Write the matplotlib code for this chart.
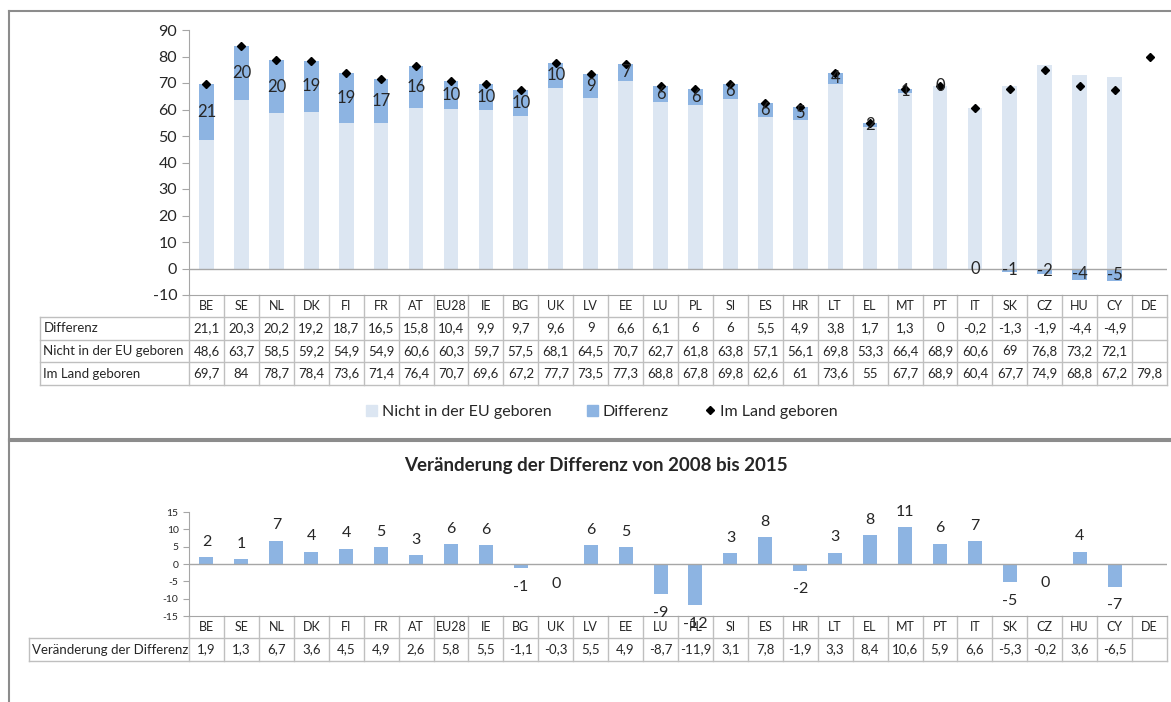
import numpy as np
import matplotlib.pyplot as plt
from matplotlib.lines import Line2D
from matplotlib.patches import Patch
from matplotlib.transforms import blended_transform_factory

plt.rcParams['font.family'] = ['Lato', 'DejaVu Sans']
plt.rcParams['axes.unicode_minus'] = False

laender = ['BE', 'SE', 'NL', 'DK', 'FI', 'FR', 'AT', 'EU28', 'IE', 'BG', 'UK', 'LV', 'EE', 'LU',
           'PL', 'SI', 'ES', 'HR', 'LT', 'EL', 'MT', 'PT', 'IT', 'SK', 'CZ', 'HU', 'CY', 'DE']
nan = np.nan
differenz = [21.1, 20.3, 20.2, 19.2, 18.7, 16.5, 15.8, 10.4, 9.9, 9.7, 9.6, 9, 6.6, 6.1,
             6, 6, 5.5, 4.9, 3.8, 1.7, 1.3, 0, -0.2, -1.3, -1.9, -4.4, -4.9, nan]
nicht_eu = [48.6, 63.7, 58.5, 59.2, 54.9, 54.9, 60.6, 60.3, 59.7, 57.5, 68.1, 64.5, 70.7, 62.7,
            61.8, 63.8, 57.1, 56.1, 69.8, 53.3, 66.4, 68.9, 60.6, 69, 76.8, 73.2, 72.1, nan]
im_land = [69.7, 84, 78.7, 78.4, 73.6, 71.4, 76.4, 70.7, 69.6, 67.2, 77.7, 73.5, 77.3, 68.8,
           67.8, 69.8, 62.6, 61, 73.6, 55, 67.7, 68.9, 60.4, 67.7, 74.9, 68.8, 67.2, 79.8]
veraenderung = [1.9, 1.3, 6.7, 3.6, 4.46, 4.9, 2.6, 5.8, 5.5, -1.1, -0.3, 5.5, 4.9, -8.7,
                -11.9, 3.1, 7.8, -1.9, 3.3, 8.4, 10.6, 5.9, 6.6, -5.3, -0.2, 3.6, -6.5, nan]

hell = '#DCE6F2'
mittel = '#8DB4E2'
grau = '#A6A6A6'
rahmen = '#8C8C8C'
txt = '#262626'

W, H = 1171, 702


def fx(px):
    return px / W


def fy(py):
    return 1 - py / H


def runden(v):
    # Excel rundet halbe Werte weg von null
    r = np.sign(v) * np.floor(abs(v) + 0.5)
    return str(int(r)) if r != 0 else '0'


def zelle(v):
    if np.isnan(v):
        return ''
    s = ('%.1f' % v).replace('.', ',')
    return s[:-2] if s.endswith(',0') else s


fig = plt.figure(figsize=(W / 100, H / 100), dpi=100)
x = np.arange(len(laender))
d = np.array(differenz)
n = np.array(nicht_eu)
v = np.array(veraenderung)

# ---------- oberes Diagramm ----------
ax1 = fig.add_axes([fx(189), fy(295), fx(1167) - fx(189), fy(30) - fy(295)])
ax1.set_xlim(-0.5, len(laender) - 0.5)
ax1.set_ylim(-10, 90)
unten = np.where(d >= 0, n, 0)
ax1.bar(x, n, width=0.42, color=hell, zorder=2)
ax1.bar(x, d, bottom=unten, width=0.42, color=mittel, zorder=2)
ax1.plot(x, im_land, ls='none', marker='D', ms=4.5, color='black', zorder=4)
for i, val in enumerate(d):
    if not np.isnan(val):
        ax1.text(i, unten[i] + val / 2, runden(val), ha='center', va='center',
                 fontsize=12, color=txt, zorder=5)
ax1.axhline(0, color=grau, lw=1, zorder=3)
ax1.set_yticks(range(-10, 91, 10))
ax1.set_xticks([])
ax1.tick_params(axis='y', length=5, color=grau, labelsize=11.5, labelcolor=txt)
for s in ['top', 'right']:
    ax1.spines[s].set_visible(False)
for s in ['left', 'bottom']:
    ax1.spines[s].set_color(grau)

tr1 = blended_transform_factory(ax1.transData, fig.transFigure)
spalte = (1167 - 189) / len(laender)
links1 = -0.5 - (189 - 40) / spalte
reihen1 = [295, 317, 340, 362, 385]
for k in range(len(laender) + 1):
    ax1.add_line(Line2D([k - 0.5, k - 0.5], [fy(295), fy(385)], transform=tr1,
                        color='#BFBFBF', lw=1, clip_on=False))
ax1.add_line(Line2D([links1, links1], [fy(317), fy(385)], transform=tr1,
                    color='#BFBFBF', lw=1, clip_on=False))
for r in reihen1[1:]:
    ax1.add_line(Line2D([links1, len(laender) - 0.5], [fy(r), fy(r)], transform=tr1,
                        color='#BFBFBF', lw=1, clip_on=False))
zeilen = [('Differenz', differenz), ('Nicht in der EU geboren', nicht_eu),
          ('Im Land geboren', im_land)]
for i, name in enumerate(laender):
    ax1.text(i, fy(306), name, transform=tr1, ha='center', va='center', fontsize=9, color=txt)
for j, (name, werte) in enumerate(zeilen):
    ym = fy((reihen1[j + 1] + reihen1[j + 2]) / 2)
    ax1.text(links1 + 0.1, ym, name, transform=tr1, ha='left', va='center',
             fontsize=9.5, color=txt)
    for i, w in enumerate(werte):
        ax1.text(i, ym, zelle(w), transform=tr1, ha='center', va='center',
                 fontsize=9.5, color=txt)

griffe = [Patch(color=hell), Patch(color=mittel),
          Line2D([], [], ls='none', marker='D', ms=4, color='black')]
fig.legend(griffe, ['Nicht in der EU geboren', 'Differenz', 'Im Land geboren'],
           loc='center', bbox_to_anchor=(fx(602), fy(412)), ncol=3, frameon=False,
           fontsize=11.5, handlelength=0.7, handleheight=0.7, handletextpad=0.3,
           columnspacing=2.2, labelcolor=txt)

# ---------- unteres Diagramm ----------
fig.text(fx(596), fy(466), 'Veränderung der Differenz von 2008 bis 2015', ha='center',
         va='center', fontsize=13.5, weight='bold', color=txt)
ax2 = fig.add_axes([fx(189), fy(616), fx(1167) - fx(189), fy(512) - fy(616)])
ax2.set_xlim(-0.5, len(laender) - 0.5)
ax2.set_ylim(-15, 15)
ax2.bar(x, v, width=0.4, color=mittel, zorder=2)
for i, val in enumerate(v):
    if not np.isnan(val):
        off = 11 if val > 0 else -13.5
        ax2.annotate(runden(val), (i, val), xytext=(0, off), textcoords='offset points',
                     ha='center', va='center', fontsize=11.5, color=txt,
                     annotation_clip=False, zorder=5)
ax2.axhline(0, color=grau, lw=1, zorder=3)
ax2.set_yticks(range(-15, 16, 5))
ax2.set_xticks([])
ax2.tick_params(axis='y', length=4, color=grau, labelsize=7.5, labelcolor=txt)
for s in ['top', 'right']:
    ax2.spines[s].set_visible(False)
for s in ['left', 'bottom']:
    ax2.spines[s].set_color(grau)

tr2 = blended_transform_factory(ax2.transData, fig.transFigure)
links2 = -0.5 - (189 - 29) / spalte
for k in range(len(laender) + 1):
    ax2.add_line(Line2D([k - 0.5, k - 0.5], [fy(616), fy(661)], transform=tr2,
                        color='#BFBFBF', lw=1, clip_on=False))
ax2.add_line(Line2D([links2, links2], [fy(638), fy(661)], transform=tr2,
                    color='#BFBFBF', lw=1, clip_on=False))
for r in [638, 661]:
    ax2.add_line(Line2D([links2, len(laender) - 0.5], [fy(r), fy(r)], transform=tr2,
                        color='#BFBFBF', lw=1, clip_on=False))
for i, name in enumerate(laender):
    ax2.text(i, fy(627), name, transform=tr2, ha='center', va='center', fontsize=9, color=txt)
    ax2.text(i, fy(649.5), zelle(veraenderung[i]), transform=tr2, ha='center', va='center',
             fontsize=9.5, color=txt)
ax2.text(links2 + 0.1, fy(649.5), 'Veränderung der Differenz', transform=tr2, ha='left',
         va='center', fontsize=9.5, color=txt)

# ---------- Rahmen ----------
for xs, ys in [([9, 9], [11, 439]), ([9, W], [11, 11]), ([9, W], [439, 439]),
               ([9, W], [441.5, 441.5]), ([9, 9], [441.5, H])]:
    fig.add_artist(Line2D([fx(a) for a in xs], [fy(b) for b in ys], color=rahmen, lw=1.5))

fig.savefig('out.png', dpi=100)
